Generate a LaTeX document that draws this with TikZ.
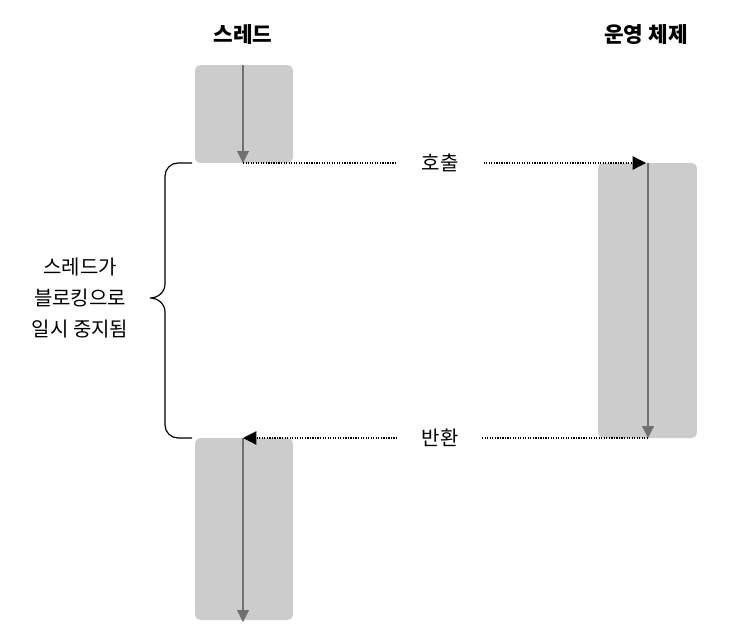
\documentclass[tikz,border=0pt]{standalone}
\usepackage{fontspec}
\setmainfont{Noto Sans CJK KR}
\usetikzlibrary{arrows.meta,decorations.pathreplacing}
\definecolor{boxgray}{HTML}{CCCCCC}
\definecolor{linegray}{HTML}{707070}
\tikzset{
  blk/.style={fill=boxgray, draw=none, rounded corners=4pt},
  flow/.style={draw=linegray, line width=0.8pt, -{Triangle[length=9pt,width=9pt]}},
  msg/.style={densely dotted, line width=0.9pt, -{Triangle[length=10pt,width=10pt]}},
  lbl/.style={fill=white, inner xsep=18pt, inner ysep=4pt, font=\fontsize{15}{17}\selectfont},
  ttl/.style={font=\bfseries\fontsize{16}{18}\selectfont}
}
\begin{document}
\begin{tikzpicture}[x=0.75pt,y=-0.75pt]
\useasboundingbox (0,0) rectangle (737,642);
\node[ttl] (t1) at (243,35) {스레드};
\node[ttl] (t2) at (646,35) {운영 체제};
\fill[blk] (195,65) rectangle (293,163);
\fill[blk] (598,163) rectangle (697,438);
\fill[blk] (195,438) rectangle (293,620);
\coordinate (a1) at (243,65); \coordinate (a2) at (243,163);
\coordinate (b1) at (648,163); \coordinate (b2) at (648,438);
\coordinate (c1) at (243,438); \coordinate (c2) at (243,622);
\draw[flow] (a1) -- (a2);
\draw[flow] (b1) -- (b2);
\draw[flow] (c1) -- (c2);
\coordinate (callend) at (646,163);
\draw[msg] (a2) -- (callend);
\node[lbl] (call) at (440,163) {호출};
\draw[msg] (b2) -- (c1);
\node[lbl] (ret) at (440,438) {반환};
\draw[line width=0.9pt] (192,163) -- (178,163) to[out=180,in=90] (165,176) -- (165,284) to[out=-90,in=0] (150,298) to[out=0,in=90] (165,312) -- (165,425) to[out=-90,in=180] (178,438) -- (192,438);
\node[align=center, font=\fontsize{15}{23}\selectfont] (note) at (80,298) {스레드가\\블로킹으로\\일시 중지됨};
\end{tikzpicture}
\end{document}
